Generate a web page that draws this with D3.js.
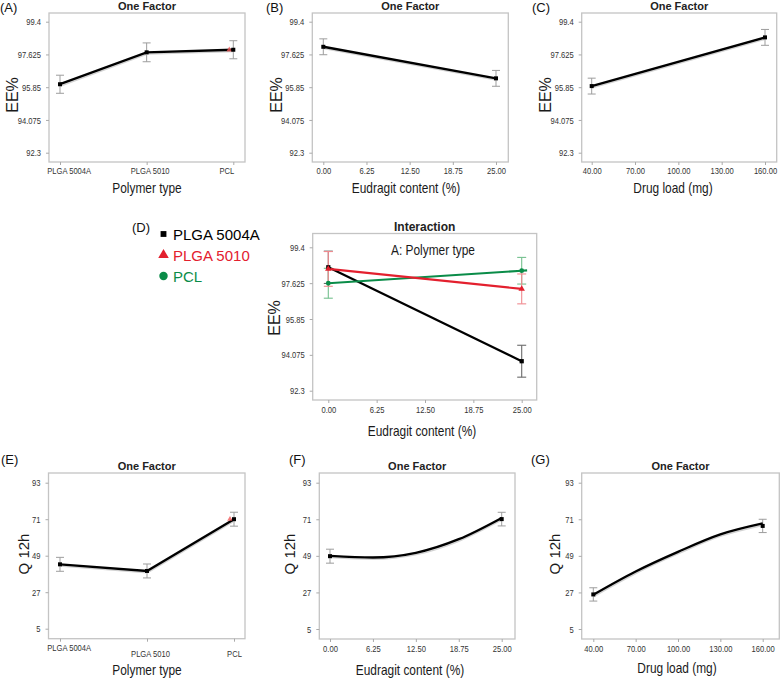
<!DOCTYPE html>
<html>
<head>
<meta charset="utf-8">
<script src="https://cdn.jsdelivr.net/npm/d3@7"></script>
<style>
  html,body{margin:0;padding:0;background:#fff;}
  svg{display:block;}
</style>
</head>
<body>
<script>
// ---------------- DATA ----------------
const polymerTypes = ["PLGA 5004A", "PLGA 5010", "PCL"];
const eeTicks = [92.3, 94.075, 95.85, 97.625, 99.4];
const eeTickLabels = ["92.3", "94.075", "95.85", "97.625", "99.4"];
const qTicks = [5, 27, 49, 71, 93];
const qTickLabels = ["5", "27", "49", "71", "93"];
const eudragitTicks = [0, 6.25, 12.5, 18.75, 25];
const eudragitTickLabels = ["0.00", "6.25", "12.50", "18.75", "25.00"];
const drugTicks = [40, 70, 100, 130, 160];
const drugTickLabels = ["40.00", "70.00", "100.00", "130.00", "160.00"];

// (A) EE% vs polymer type
const eePolymerMean = [96.01, 97.74, 97.88];
const eePolymerErr = [0.49, 0.51, 0.49];
// (B) EE% vs Eudragit content
const eudragitLevels = [0, 25];
const eeEudragitMean = [98.04, 96.33];
const eeEudragitErr = [0.43, 0.43];
// (C) EE% vs drug load
const drugLevels = [40, 160];
const eeDrugMean = [95.91, 98.55];
const eeDrugErr = [0.43, 0.43];
// (D) Interaction: EE% vs Eudragit content by polymer type
const interactionNames = ["PLGA 5004A", "PLGA 5010", "PCL"];
const eeInter5004A = [98.41, 93.76];
const eeInter5004AErr = [0.80, 0.79];
const eeInter5010 = [98.33, 97.34];
const eeInter5010Err = [0.86, 0.74];
const eeInterPCL = [97.62, 98.24];
const eeInterPCLErr = [0.74, 0.66];
// (E) Q12h vs polymer type
const qPolymerMean = [43.8, 39.8, 71.0];
const qPolymerErr = [4.2, 4.2, 4.2];
// (F) Q12h vs Eudragit content
const qEudragitMean = [48.8, 71.1];
const qEudragitErr = [4.2, 4.1];
const qEudragitCurveX = [0, 6.25, 12.5, 18.75, 25];
const qEudragitCurve = [49.0, 48.0, 50.8, 59.0, 71.8];
// (G) Q12h vs drug load
const qDrugMean = [25.8, 67.0];
const qDrugErr = [4.0, 4.0];
const qDrugCurveX = [40, 70, 100, 130, 160];
const qDrugCurve = [25.6, 39.6, 51.4, 61.9, 68.5];

// ---------------- STYLE ----------------
const SANS = '"Liberation Sans",Arial,Helvetica,sans-serif';
const RED = "#e3202e", GREEN = "#0a8c48", BLACK = "#000";
const TICK_K = 0.8, TITLE_K = 0.85;   // horizontal condensing (narrow face look)

const svg = d3.select("body").append("svg").attr("width", 784).attr("height", 686);

function narrowText(g, X, Y, str, size, k, anchor, color) {
  return g.append("text").attr("transform", `translate(${X},${Y}) scale(${k},1)`)
    .attr("text-anchor", anchor || "middle").text(str)
    .attr("font-family", SANS).attr("font-size", size).attr("fill", color || "#1a1a1a");
}

function condense(sel, k) {
  sel.each(function () {
    const t = d3.select(this);
    const x = +t.attr("x") || 0;
    t.attr("x", x / k).attr("transform", `scale(${k},1)`);
  });
}

function frame(g, f) {
  g.append("rect").attr("x", f.x0).attr("y", f.y0)
    .attr("width", f.x1 - f.x0).attr("height", f.y1 - f.y0)
    .attr("fill", "none").attr("stroke", "#c4c4c4").attr("stroke-width", 1.3);
}

function yAxis(g, f, y, ticks, labels) {
  const ax = d3.axisLeft(y).tickValues(ticks).tickFormat((d, i) => labels[i]).tickSize(3).tickPadding(5);
  const a = g.append("g").attr("transform", `translate(${f.x0},0)`).call(ax);
  a.select(".domain").remove();
  a.selectAll("line").attr("stroke", "#aaa");
  a.selectAll("text").attr("font-family", SANS).attr("font-size", 9.5).attr("fill", "#333");
  condense(a.selectAll("text"), TICK_K);
}

function xAxis(g, f, x, ticks, labels, pad, stagger, anchors) {
  const ax = d3.axisBottom(x).tickValues(ticks).tickFormat((d, i) => labels[i]).tickSize(3).tickPadding(pad);
  const a = g.append("g").attr("transform", `translate(0,${f.y1})`).call(ax);
  a.select(".domain").remove();
  a.selectAll("line").attr("stroke", "#aaa");
  a.selectAll("text").attr("font-family", SANS).attr("font-size", 9.5).attr("fill", "#333");
  if (stagger) a.selectAll("text").attr("dy", (d, i) => i === 0 ? "0.71em" : "1.33em");
  if (anchors) a.selectAll("text")
    .attr("text-anchor", (d, i) => anchors[i][0])
    .attr("x", (d, i) => anchors[i][1]);
  condense(a.selectAll("text"), TICK_K);
}

function texts(g, p) {
  if (p.tag) g.append("text").attr("x", p.tagX).attr("y", p.tagY).text(p.tag)
    .attr("font-family", SANS).attr("font-size", 13).attr("fill", "#111");
  g.append("text").attr("x", (p.f.x0 + p.f.x1) / 2).attr("y", p.f.y0 - 3).text(p.title)
    .attr("text-anchor", "middle").attr("font-family", SANS).attr("font-weight", "bold")
    .attr("font-size", p.titleSize || 11).attr("fill", "#222");
  narrowText(g, p.xtX, p.xtY, p.xTitle, 14, TITLE_K);
  g.append("text").attr("transform", `translate(${p.ytX},${p.ytY}) rotate(-90)`).text(p.yTitle)
    .attr("text-anchor", "middle").attr("font-family", SANS).attr("font-size", p.ytSize || 16).attr("fill", "#1a1a1a");
}

function errorBars(g, pts, color, w, cap) {
  const e = g.append("g").attr("stroke", color).attr("stroke-width", w).attr("fill", "none");
  pts.forEach(p => {
    e.append("line").attr("x1", p.x).attr("x2", p.x).attr("y1", p.yLo).attr("y2", p.yHi);
    e.append("line").attr("x1", p.x - cap).attr("x2", p.x + cap).attr("y1", p.yLo).attr("y2", p.yLo);
    e.append("line").attr("x1", p.x - cap).attr("x2", p.x + cap).attr("y1", p.yHi).attr("y2", p.yHi);
  });
}

// one-factor panel
function oneFactor(p) {
  const g = svg.append("g");
  const f = p.f;
  const y = d3.scaleLinear().domain([p.yTicks[0], p.yTicks[p.yTicks.length - 1]])
    .range([f.y1 - p.padB, f.y0 + p.padT]);
  let x;
  if (p.categorical) x = d3.scalePoint().domain(p.xDomain).range([f.x0 + p.padL, f.x1 - p.padR]);
  else x = d3.scaleLinear().domain([p.xDomain[0], p.xDomain[p.xDomain.length - 1]]).range([f.x0 + p.padL, f.x1 - p.padR]);
  frame(g, f);
  yAxis(g, f, y, p.yTicks, p.yLabels);
  xAxis(g, f, x, p.xTicks, p.xLabels, p.xPad, p.stagger, p.anchors);
  texts(g, p);

  const pts = p.levels.map((lv, i) => ({ x: x(lv), y: y(p.mean[i]), yLo: y(p.mean[i] - p.err[i]), yHi: y(p.mean[i] + p.err[i]) }));
  errorBars(g, pts, "#9d9d9d", 1, 4);

  const lineX = p.curveX || p.levels;
  const lineY = p.curveY || p.mean;
  const lineData = lineX.map((v, i) => [x(v), y(lineY[i])]);
  const gen = d3.line().curve(p.curveX ? d3.curveMonotoneX : d3.curveLinear);
  // faint fitted shadow
  g.append("path").attr("d", gen(lineData.map(d => [d[0] + 0.5, d[1] + 1.8])))
    .attr("fill", "none").attr("stroke", "#d2d2d2").attr("stroke-width", 1.4);
  g.append("path").attr("d", gen(lineData))
    .attr("fill", "none").attr("stroke", BLACK).attr("stroke-width", 2.4);
  if (p.redMark !== undefined) {
    const pt = pts[p.redMark];
    g.append("path").attr("d", d3.symbol(d3.symbolTriangle, 14)())
      .attr("transform", `translate(${pt.x - 4},${pt.y})`).attr("fill", "#ef5a5a").attr("opacity", 0.8);
  }
  g.selectAll("rect.pt").data(pts).enter().append("rect")
    .attr("x", d => d.x - 2).attr("y", d => d.y - 2).attr("width", 4).attr("height", 4).attr("fill", BLACK);
}

// ---------------- PANELS ----------------
const eeBase = { yTicks: eeTicks, yLabels: eeTickLabels, yTitle: "EE%", padT: 8.7, padB: 9.3, title: "One Factor", xPad: 2, tagY: 12, ytY: 95 };
const qBase = { yTicks: qTicks, yLabels: qTickLabels, yTitle: "Q 12h", ytSize: 15, padT: 9.7, padB: 10, title: "One Factor", xPad: 3, tagY: 464, ytY: 554 };

oneFactor(Object.assign({}, eeBase, {
  f: { x0: 49, x1: 245, y0: 13, y1: 162 }, padL: 11, padR: 11.7,
  categorical: true, xDomain: polymerTypes, xTicks: polymerTypes, xLabels: polymerTypes,
  anchors: [["start", -13.3], ["middle", 3], ["end", 0.5]],
  levels: polymerTypes, mean: eePolymerMean, err: eePolymerErr, redMark: 2,
  tag: "(A)", tagX: 0, xTitle: "Polymer  type", xtX: 147, xtY: 193, ytX: 18
}));
oneFactor(Object.assign({}, eeBase, {
  f: { x0: 312.3, x1: 508.3, y0: 13, y1: 162 }, padL: 11, padR: 12.3,
  xDomain: eudragitTicks, xTicks: eudragitTicks, xLabels: eudragitTickLabels,
  levels: eudragitLevels, mean: eeEudragitMean, err: eeEudragitErr,
  tag: "(B)", tagX: 266, xTitle: "Eudragit content (%)", xtX: 406, xtY: 193, ytX: 282
}));
oneFactor(Object.assign({}, eeBase, {
  f: { x0: 581.7, x1: 776.7, y0: 13, y1: 162 }, padL: 10, padR: 11.7,
  xDomain: drugTicks, xTicks: drugTicks, xLabels: drugTickLabels,
  levels: drugLevels, mean: eeDrugMean, err: eeDrugErr,
  tag: "(C)", tagX: 532, xTitle: "Drug load (mg)", xtX: 673, xtY: 193, ytX: 551
}));
oneFactor(Object.assign({}, qBase, {
  f: { x0: 48.5, x1: 245, y0: 473, y1: 638.7 }, padL: 11.5, padR: 11,
  categorical: true, xDomain: polymerTypes, xTicks: polymerTypes, xLabels: polymerTypes, stagger: true,
  anchors: [["start", -13.3], ["middle", 3], ["middle", 0]],
  levels: polymerTypes, mean: qPolymerMean, err: qPolymerErr, redMark: 2,
  tag: "(E)", tagX: 1, xTitle: "Polymer  type", xtX: 147, xtY: 675, ytX: 29
}));
oneFactor(Object.assign({}, qBase, {
  f: { x0: 319.3, x1: 515, y0: 473, y1: 639 }, padL: 10.7, padR: 13.3,
  xDomain: eudragitTicks, xTicks: eudragitTicks, xLabels: eudragitTickLabels,
  levels: eudragitLevels, mean: qEudragitMean, err: qEudragitErr,
  curveX: qEudragitCurveX, curveY: qEudragitCurve,
  tag: "(F)", tagX: 289, xTitle: "Eudragit content (%)", xtX: 410, xtY: 675, ytX: 295
}));
oneFactor(Object.assign({}, qBase, {
  f: { x0: 581.7, x1: 779.3, y0: 473, y1: 639 }, padL: 11.6, padR: 16.6,
  xDomain: drugTicks, xTicks: drugTicks, xLabels: drugTickLabels,
  levels: drugLevels, mean: qDrugMean, err: qDrugErr,
  curveX: qDrugCurveX, curveY: qDrugCurve,
  tag: "(G)", tagX: 531, xTitle: "Drug load (mg)", xtX: 677, xtY: 673, ytX: 560
}));

// ---------------- (D) INTERACTION ----------------
(function () {
  const g = svg.append("g");
  const f = { x0: 312.7, x1: 536.7, y0: 233.5, y1: 400 };
  const y = d3.scaleLinear().domain([eeTicks[0], eeTicks[eeTicks.length - 1]]).range([f.y1 - 9.3, f.y0 + 13.8]);
  const x = d3.scaleLinear().domain([0, 25]).range([f.x0 + 15.6, f.x1 - 15]);
  frame(g, f);
  yAxis(g, f, y, eeTicks, eeTickLabels);
  xAxis(g, f, x, eudragitTicks, eudragitTickLabels, 3);
  texts(g, { f, title: "Interaction", titleSize: 12,
    xTitle: "Eudragit content (%)", xtX: 422, xtY: 436, yTitle: "EE%", ytX: 280, ytY: 318 });
  narrowText(g, 433, 255, "A: Polymer  type", 14, TITLE_K);

  const series = [
    { name: interactionNames[0], vals: eeInter5004A, err: eeInter5004AErr, color: BLACK, bar: "#6a6a6a", sym: d3.symbolSquare },
    { name: interactionNames[2], vals: eeInterPCL, err: eeInterPCLErr, color: GREEN, bar: "#74c08e", sym: d3.symbolCircle, extend: 25.7 },
    { name: interactionNames[1], vals: eeInter5010, err: eeInter5010Err, color: RED, bar: "#f08a8f", sym: d3.symbolTriangle }
  ];
  series.forEach(s => {
    const pts = eudragitLevels.map((lv, i) => ({ x: x(lv), y: y(s.vals[i]), yLo: y(s.vals[i] - s.err[i]), yHi: y(s.vals[i] + s.err[i]) }));
    errorBars(g, pts, s.bar, 1.1, 4.5);
  });
  series.forEach(s => {
    const pts = eudragitLevels.map((lv, i) => [x(lv), y(s.vals[i])]);
    if (s.extend) {
      const slope = (s.vals[1] - s.vals[0]) / 25;
      pts.push([x(s.extend), y(s.vals[1] + slope * (s.extend - 25))]);
    }
    g.append("path").attr("d", d3.line()(pts)).attr("fill", "none").attr("stroke", s.color).attr("stroke-width", 2.2);
  });
  series.forEach(s => {
    eudragitLevels.forEach((lv, i) => {
      g.append("path").attr("d", d3.symbol(s.sym, 18)())
        .attr("transform", `translate(${x(lv)},${y(s.vals[i])})`).attr("fill", s.color);
    });
  });

  // legend
  const leg = svg.append("g");
  leg.append("text").attr("x", 132).attr("y", 232).text("(D)")
    .attr("font-family", SANS).attr("font-size", 13).attr("fill", "#111");
  const legItems = [
    { name: interactionNames[0], color: BLACK, sym: d3.symbolSquare, size: 34 },
    { name: interactionNames[1], color: RED, sym: d3.symbolTriangle, size: 48 },
    { name: interactionNames[2], color: GREEN, sym: d3.symbolCircle, size: 56 }
  ];
  legItems.forEach((it, i) => {
    const by = 239.5 + i * 21;
    leg.append("path").attr("d", d3.symbol(it.sym, it.size)())
      .attr("transform", `translate(163.5,${by - 5.5})`).attr("fill", it.color);
    leg.append("text").attr("x", 173).attr("y", by).text(it.name)
      .attr("font-family", SANS).attr("font-size", 15).attr("fill", it.color);
  });
})();
</script>
</body>
</html>
